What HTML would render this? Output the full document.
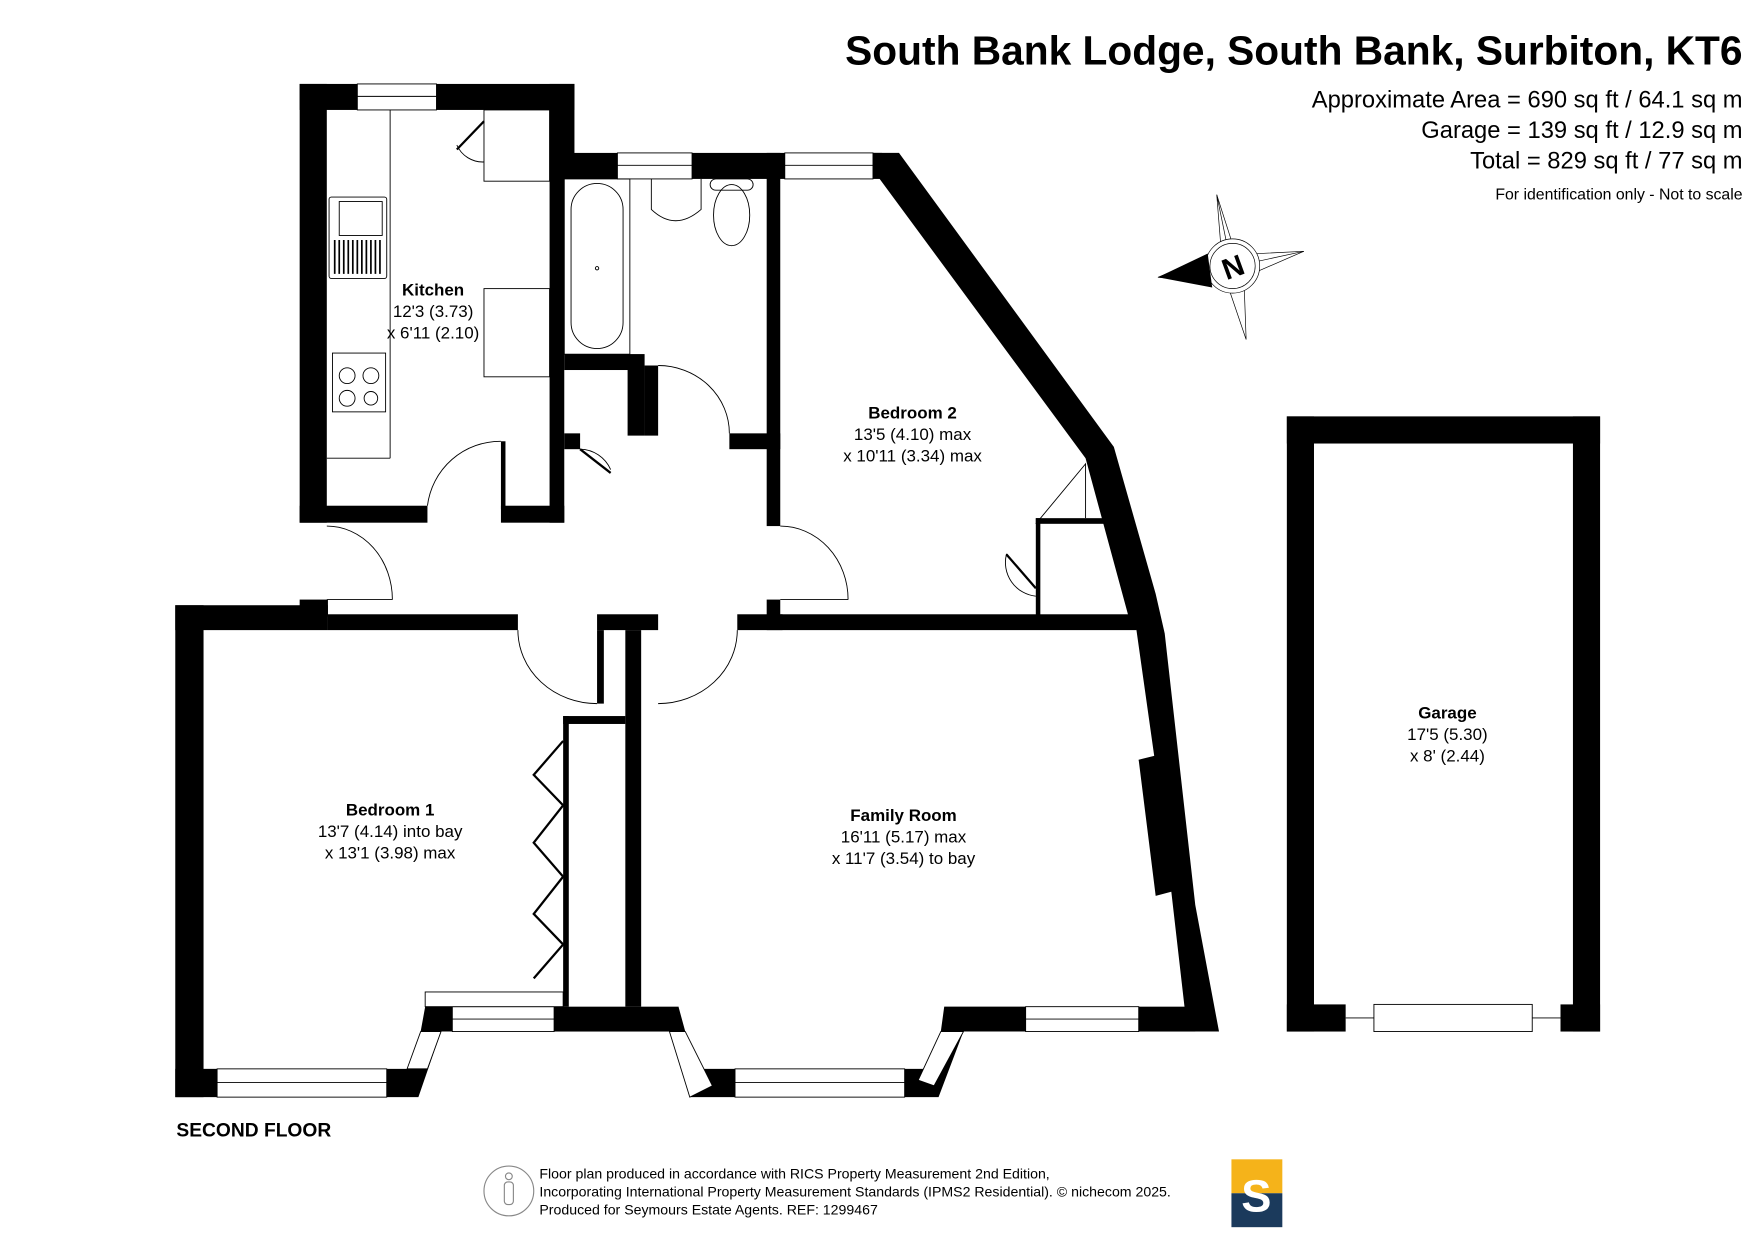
<!DOCTYPE html>
<html><head><meta charset="utf-8"><style>
html,body{margin:0;padding:0;background:#fff;}
svg{display:block;}
text{font-family:"Liberation Sans",Arial,sans-serif;fill:#000;}
</style></head><body>
<svg width="1755" height="1241" viewBox="0 0 1552 1097" xmlns="http://www.w3.org/2000/svg">
<rect width="1552" height="1097" fill="#fff"/>
<!-- Title -->
<text x="1541" y="57" font-size="36" font-weight="bold" text-anchor="end">South Bank Lodge, South Bank, Surbiton, KT6</text>
<text x="1541" y="95" font-size="21" text-anchor="end">Approximate Area = 690 sq ft / 64.1 sq m</text>
<text x="1541" y="122" font-size="21" text-anchor="end">Garage = 139 sq ft / 12.9 sq m</text>
<text x="1541" y="149" font-size="21" text-anchor="end">Total = 829 sq ft / 77 sq m</text>
<text x="1541" y="176" font-size="14" text-anchor="end">For identification only - Not to scale</text>

<!-- compass -->
<g stroke="#000" stroke-width="0.6" fill="none">
<polygon points="1076,172 1093,225 1153,222 1100,245 1102,300 1085,250 1024,245 1080,222"/>
<line x1="1076" y1="172" x2="1093" y2="255"/><line x1="1153" y1="222" x2="1070" y2="240"/>
<circle cx="1090" cy="235" r="24" fill="#fff"/><circle cx="1090" cy="235" r="20"/>
</g>
<polygon points="1024,245 1068,224 1072,254" fill="#000"/>
<text x="1090" y="245" font-size="26" font-weight="bold" text-anchor="middle" transform="rotate(-20 1090 235)">N</text>

<g fill="#000">
<!-- Kitchen -->
<rect x="265" y="74" width="24" height="388"/>
<rect x="265" y="74" width="243" height="23"/>
<rect x="486" y="74" width="22" height="84"/>
<rect x="486" y="135" width="294" height="23"/>
<rect x="486" y="135" width="13" height="327"/>
<rect x="265" y="447" width="113" height="15"/>
<rect x="443" y="447" width="56" height="15"/>
<rect x="443" y="390" width="4" height="60"/>
<!-- bath walls -->
<rect x="499" y="313" width="71" height="14"/>
<rect x="555" y="313" width="15" height="72"/>
<rect x="570" y="323" width="12" height="62"/>
<rect x="499" y="383" width="14" height="14"/>
<rect x="645" y="383" width="45" height="14"/>
<rect x="678" y="135" width="12" height="330"/>
<!-- bedroom2 diagonal & right wall -->
<polygon points="772,135 795,135 985,395 1022,525 1030,560 1057,800 1078,912 1050,912 1028,720 1005,557 998,545 960,405 772,150"/>
<rect x="690" y="543" width="315" height="14"/>
<rect x="678" y="530" width="12" height="27"/>
<rect x="652" y="543" width="40" height="14"/>
<rect x="916" y="458" width="62" height="5"/>
<rect x="916" y="458" width="4" height="90"/>
<!-- hall bottom -->
<rect x="155" y="535" width="135" height="22"/>
<rect x="265" y="530" width="25" height="15"/>
<rect x="290" y="543" width="168" height="14"/>
<rect x="528" y="543" width="54" height="14"/>
<rect x="528" y="557" width="6" height="65"/>
<rect x="553" y="557" width="14" height="333"/>
<!-- bedroom1 -->
<rect x="155" y="535" width="25" height="435"/>
<rect x="155" y="945" width="37" height="25"/>
<polygon points="342,945 360,945 372,912 376,890 400,890 400,912 390,912 370,970 342,970"/>
<rect x="490" y="890" width="110" height="22"/>
<rect x="498" y="633" width="55" height="7"/>
<rect x="498" y="633" width="5" height="257"/>
<!-- family room bay -->
<polygon points="600,890 606,912 622,945 650,945 650,970 610,970 592,912 580,905"/>
<polygon points="800,945 826,945 832,912 835,890 907,890 907,912 852,912 830,970 800,970"/>
<rect x="1007" y="890" width="50" height="22"/>
<polygon points="1007,672 1023,668 1037,788 1022,792"/>
<!-- garage -->
<rect x="1138" y="368" width="277" height="24"/>
<rect x="1138" y="368" width="24" height="544"/>
<rect x="1391" y="368" width="24" height="544"/>
<rect x="1138" y="888" width="52" height="24"/>
<rect x="1380" y="888" width="35" height="24"/>
</g>

<!-- windows -->
<g fill="#fff" stroke="#000" stroke-width="0.8">
<rect x="316" y="74" width="70" height="23"/><line x1="316" y1="85" x2="386" y2="85"/>
<rect x="546" y="135" width="66" height="23"/><line x1="546" y1="146" x2="612" y2="146"/>
<rect x="694" y="135" width="78" height="23"/><line x1="694" y1="146" x2="772" y2="146"/>
<rect x="192" y="945" width="150" height="25"/><line x1="192" y1="957" x2="342" y2="957"/>
<rect x="400" y="890" width="90" height="22"/><line x1="400" y1="901" x2="490" y2="901"/>
<rect x="650" y="945" width="150" height="25"/><line x1="650" y1="957" x2="800" y2="957"/>
<rect x="907" y="890" width="100" height="22"/><line x1="907" y1="901" x2="1007" y2="901"/>
<polygon points="360,945 372,912 390,912 378,945"/>
<polygon points="592,912 610,970 630,960 606,912" fill="#fff"/>
<polygon points="832,912 852,912 826,960 812,955"/>
<rect x="1215" y="888" width="140" height="24"/>
<line x1="1190" y1="900" x2="1215" y2="900"/><line x1="1355" y1="900" x2="1380" y2="900"/>
<rect x="376" y="877" width="122" height="13"/>
</g>

<!-- doors and fittings -->
<g fill="none" stroke="#000" stroke-width="0.8">
<path d="M378,447 A65,65 0 0 1 443,390"/>
<path d="M289,465 A58,65 0 0 1 347,530"/><line x1="289" y1="530" x2="347" y2="530"/>
<path d="M458,557 A70,65 0 0 0 528,622"/>
<path d="M652,557 A70,65 0 0 1 582,622"/>
<path d="M690,465 A60,65 0 0 1 750,530"/><line x1="690" y1="530" x2="750" y2="530"/>
<path d="M582,323 A63,60 0 0 1 645,383"/>
<path d="M513,397 A30,30 0 0 1 540,415"/>
<path d="M916,463 L960,410 L960,458"/>
<path d="M916,527 A30,30 0 0 1 890,490 L916,520"/>
<path d="M428,143 A25,25 0 0 1 404,128"/>
<line x1="345" y1="97" x2="345" y2="405"/><line x1="289" y1="405" x2="345" y2="405"/>
<rect x="428" y="97" width="58" height="63"/>
<rect x="428" y="255" width="58" height="78"/>
<rect x="291" y="174" width="51" height="72" rx="2"/><rect x="300" y="178" width="38" height="30"/>
<rect x="294" y="312" width="47" height="52"/>
<circle cx="307" cy="332" r="7"/><circle cx="328" cy="332" r="7"/><circle cx="307" cy="352" r="7"/><circle cx="328" cy="352" r="6"/>
<rect x="499" y="158" width="58" height="155"/>
<rect x="505" y="162" width="46" height="146" rx="23"/>
<circle cx="528" cy="237" r="1.5"/>
<path d="M576,158 L576,185 Q597,205 620,185 L620,158"/>
<ellipse cx="647" cy="190" rx="16" ry="27"/><rect x="628" y="158" width="38" height="10" rx="5"/>
<line x1="1007" y1="672" x2="1023" y2="668"/>
</g>
<g stroke="#000" stroke-width="2" fill="none">
<line x1="428" y1="107" x2="404" y2="132"/>
<line x1="513" y1="397" x2="540" y2="418"/>
<line x1="916" y1="520" x2="890" y2="490"/>
<path d="M498,655 L472,685 L498,712 L472,745 L498,775 L472,808 L498,835 L472,865"/>
<path d="M296,212 v30 M300,212 v30 M304,212 v30 M308,212 v30 M312,212 v30 M316,212 v30 M320,212 v30 M324,212 v30 M328,212 v30 M332,212 v30 M336,212 v30" stroke-width="1.5"/>
</g>

<!-- labels -->
<g font-size="15" text-anchor="middle">
<text x="383" y="261" font-weight="bold">Kitchen</text>
<text x="383" y="280">12'3 (3.73)</text>
<text x="383" y="299">x 6'11 (2.10)</text>
<text x="807" y="370" font-weight="bold">Bedroom 2</text>
<text x="807" y="389">13'5 (4.10) max</text>
<text x="807" y="408">x 10'11 (3.34) max</text>
<text x="345" y="721" font-weight="bold">Bedroom 1</text>
<text x="345" y="740">13'7 (4.14) into bay</text>
<text x="345" y="759">x 13'1 (3.98) max</text>
<text x="799" y="726" font-weight="bold">Family Room</text>
<text x="799" y="745">16'11 (5.17) max</text>
<text x="799" y="764">x 11'7 (3.54) to bay</text>
<text x="1280" y="635" font-weight="bold">Garage</text>
<text x="1280" y="654">17'5 (5.30)</text>
<text x="1280" y="673">x 8' (2.44)</text>
</g>
<text x="156" y="1005" font-size="17" font-weight="bold">SECOND FLOOR</text>

<!-- footer -->
<circle cx="450" cy="1053" r="22" fill="none" stroke="#888" stroke-width="1"/>
<rect x="446" y="1045" width="8" height="20" rx="3" fill="none" stroke="#888"/>
<circle cx="450" cy="1040" r="3" fill="none" stroke="#888"/>
<g font-size="12.5" fill="#555">
<text x="477" y="1042" fill="#555">Floor plan produced in accordance with RICS Property Measurement 2nd Edition,</text>
<text x="477" y="1058" fill="#555">Incorporating International Property Measurement Standards (IPMS2 Residential).  © nichecom 2025.</text>
<text x="477" y="1074" fill="#555">Produced for Seymours Estate Agents.   REF: 1299467</text>
</g>
<rect x="1089" y="1025" width="45" height="30" fill="#f5b31a"/>
<rect x="1089" y="1055" width="45" height="30" fill="#1b3a5c"/>
<text x="1111" y="1071" font-size="40" font-weight="bold" text-anchor="middle" style="fill:#fff">S</text>
</svg>
</body></html>
